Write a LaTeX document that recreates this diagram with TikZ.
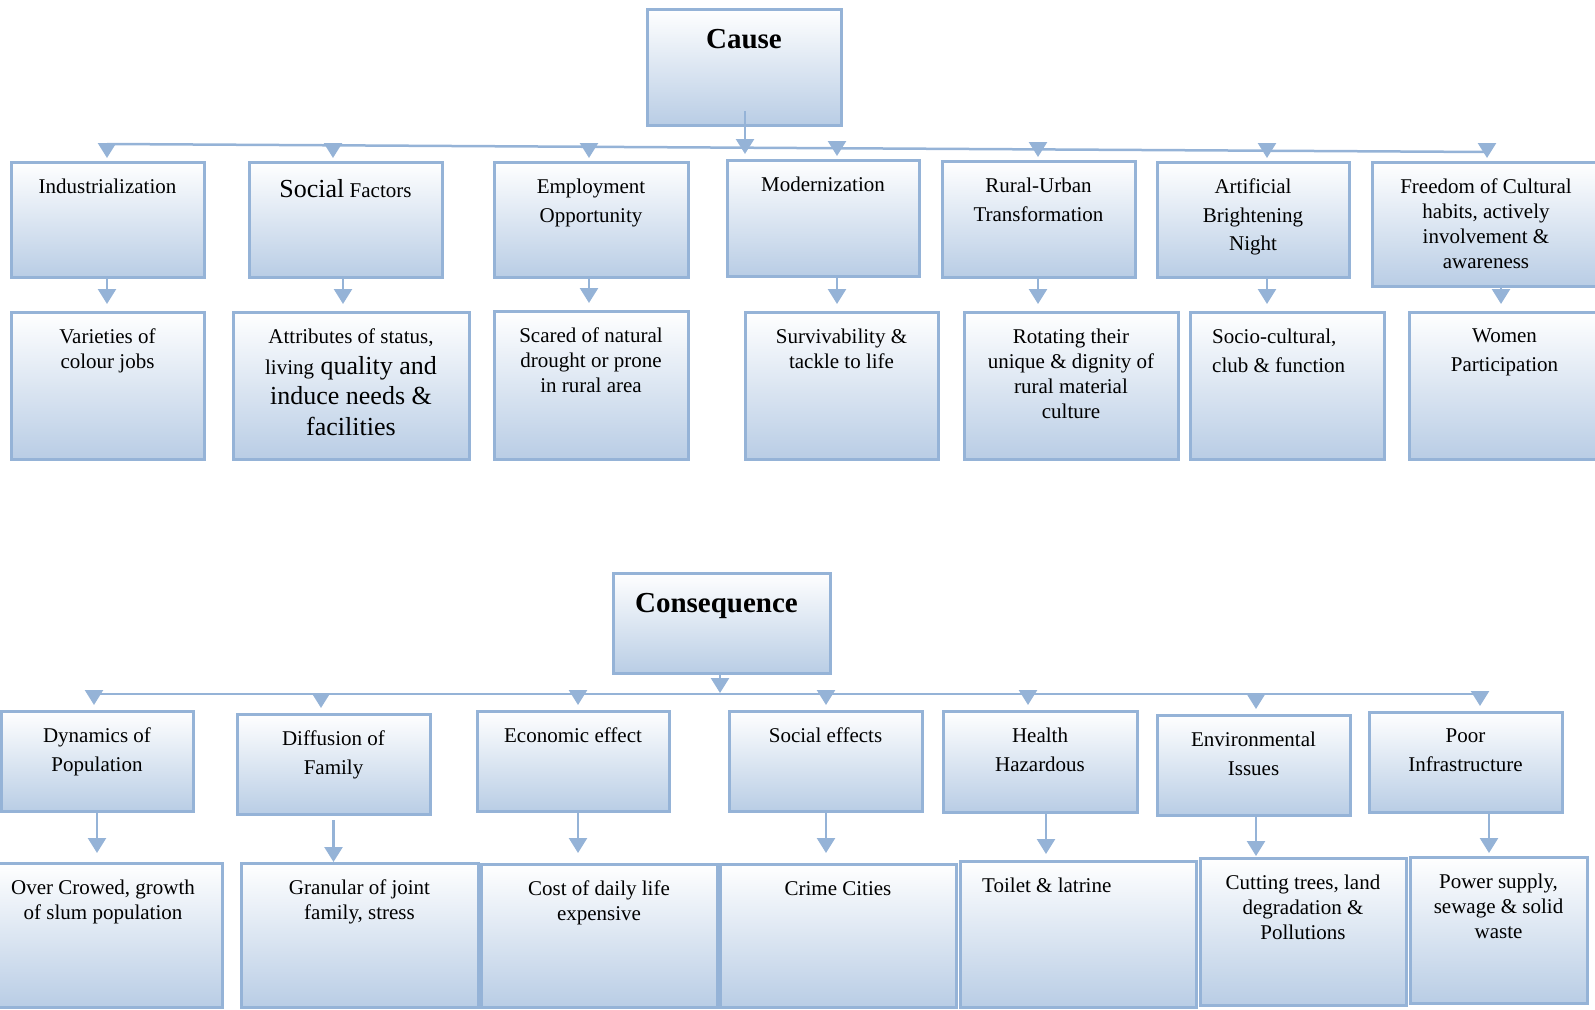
\documentclass[tikz,border=0pt]{standalone}
\usepackage{fontspec}
\setmainfont{Liberation Serif}
\usepackage{tikz}
\usetikzlibrary{arrows.meta,positioning,fit}
\usepackage{xcolor}
\definecolor{bline}{HTML}{95B3D7}
\definecolor{bfill}{HTML}{B9CDE5}

\begin{document}
\begin{tikzpicture}[
  x=1pt,y=-1pt,
  box/.style={draw=bline,line width=3pt,top color=white,bottom color=bfill,inner sep=0pt,outer sep=0pt},
  txt/.style={anchor=north,inner sep=0pt,align=center,font=\fontsize{21}{25}\selectfont},
  txtw/.style={txt,font=\fontsize{21}{28.5}\selectfont},
  headtxt/.style={anchor=north,inner sep=0pt,font=\fontsize{29}{34}\selectfont\bfseries},
  bus/.style={draw=bline,line width=2.5pt},
  link/.style={-{Triangle[width=18pt,length=15pt]},draw=bline,line width=2.5pt}
]
  \useasboundingbox (0,0) rectangle (1595,1009);
  \clip (0,0) rectangle (1595,1009);

  % Cause -- top block
  \node[box,fit={(647,9) (841,125)}] (cause) {};
  \node[headtxt] (cause-t) at ([yshift=-20pt]cause.north) {Cause};

  % Top row
  \node[box,fit={(11,162) (204,277)}]    (ind) {};
  \node[box,fit={(249,162) (442,277)}]   (soc) {};
  \node[box,fit={(494,162) (688,277)}]   (emp) {};
  \node[box,fit={(727,160) (919,276)}]   (mod) {};
  \node[box,fit={(942,161) (1135,277)}]  (rur) {};
  \node[box,fit={(1157,162) (1349,277)}] (art) {};
  \node[box,fit={(1372,162) (1600,286)}] (fre) {};

  \node[txt]  (ind-t) at ([yshift=-17pt]ind.north) {Industrialization};
  \node[txt]  (soc-t) at ([yshift=-17pt]soc.north) {{\fontsize{26}{30}\selectfont Social} Factors};
  \node[txtw] (emp-t) at ([yshift=-17pt]emp.north) {Employment\\Opportunity};
  \node[txt]  (mod-t) at ([yshift=-17pt]mod.north) {Modernization};
  \node[txtw] (rur-t) at ([yshift=-17pt]rur.north) {Rural-Urban\\Transformation};
  \node[txtw] (art-t) at ([yshift=-17pt]art.north) {Artificial\\Brightening\\Night};
  \node[txt]  (fre-t) at ([yshift=-17pt]fre.north) {Freedom of Cultural\\habits, actively\\involvement \&\\awareness};

  % Second row -- below
  \node[box,fit={(11,312) (204,459)}]    (var) {};
  \node[box,fit={(233,312) (469,459)}]   (att) {};
  \node[box,fit={(494,311) (688,459)}]   (sca) {};
  \node[box,fit={(745,312) (938,459)}]   (sur) {};
  \node[box,fit={(964,312) (1178,459)}]  (rot) {};
  \node[box,fit={(1190,312) (1384,459)}] (scl) {};
  \node[box,fit={(1409,312) (1600,459)}] (wom) {};

  \node[txt]  (var-t) at ([yshift=-17pt]var.north) {Varieties of\\colour jobs};
  \node[txt,font=\fontsize{26}{30.5}\selectfont] (att-t) at ([yshift=-17pt]att.north)
    {{\fontsize{21}{25}\selectfont Attributes of status,}\\{\fontsize{21}{25}\selectfont living} quality and\\induce needs \&\\facilities};
  \node[txt]  (sca-t) at ([yshift=-17pt]sca.north) {Scared of natural\\drought or prone\\in rural area};
  \node[txt]  (sur-t) at ([yshift=-17pt]sur.north) {Survivability \&\\tackle to life};
  \node[txt]  (rot-t) at ([yshift=-17pt]rot.north) {Rotating their\\unique \& dignity of\\rural material\\culture};
  \node[txtw,anchor=north west,align=left] (scl-t) at ([xshift=22pt,yshift=-17pt]scl.north west) {Socio-cultural,\\club \& function};
  \node[txtw] (wom-t) at ([yshift=-17pt]wom.north) {Women\\Participation};

  % Cause bus and arrows
  \coordinate (t0) at (745,154);
  \coordinate (t1) at (107,144);
  \coordinate (t2) at (333,145.3);
  \coordinate (t3) at (589,146.8);
  \coordinate (t4) at (837,148.2);
  \coordinate (t5) at (1038,149.4);
  \coordinate (t6) at (1267,150.7);
  \coordinate (t7) at (1487,152);
  \draw[bus] (t1) -- (t7);
  \draw[link] ([yshift=14pt]cause.south -| t0) -- (t0);
  \draw[link,shorten >=4pt] (t1) -- (t1 |- ind.north);
  \draw[link,shorten >=4pt] (t2) -- (t2 |- soc.north);
  \draw[link,shorten >=4pt] (t3) -- (t3 |- emp.north);
  \draw[link,shorten >=4pt] (t4) -- (t4 |- mod.north);
  \draw[link,shorten >=4pt] (t5) -- (t5 |- rur.north);
  \draw[link,shorten >=4pt] (t6) -- (t6 |- art.north);
  \draw[link,shorten >=4pt] (t7) -- (t7 |- fre.north);

  \draw[link,shorten >=8pt] (t1 |- ind.south) -- (t1 |- var.north);
  \draw[link,shorten >=8pt] ([xshift=-2.5pt]soc.south) -- ([xshift=-2.5pt]soc.south |- att.north);
  \draw[link,shorten >=8pt] (t3 |- emp.south) -- (t3 |- sca.north);
  \draw[link,shorten >=8pt] (t4 |- mod.south) -- (t4 |- sur.north);
  \draw[link,shorten >=8pt] (t5 |- rur.south) -- (t5 |- rot.north);
  \draw[link,shorten >=8pt] (t6 |- art.south) -- (t6 |- scl.north);
  \draw[link,shorten >=8pt] ([xshift=15pt]fre.south) -- ([xshift=15pt]fre.south |- wom.north);

  % Consequence -- lower block
  \node[box,fit={(613,573) (830,673)}] (cons) {};
  \node[headtxt] (cons-t) at ([xshift=-5pt,yshift=-20pt]cons.north) {Consequence};

  % Third row
  \node[box,fit={(1,711) (193,811)}]     (dyn) {};
  \node[box,fit={(237,714) (430,814)}]   (dif) {};
  \node[box,fit={(477,711) (669,811)}]   (eco) {};
  \node[box,fit={(729,711) (922,811)}]   (sef) {};
  \node[box,fit={(943,711) (1137,812)}]  (hea) {};
  \node[box,fit={(1157,715) (1350,815)}] (env) {};
  \node[box,fit={(1369,712) (1562,812)}] (poo) {};

  \node[txtw] (dyn-t) at ([yshift=-17pt]dyn.north) {Dynamics of\\Population};
  \node[txtw] (dif-t) at ([yshift=-17pt]dif.north) {Diffusion of\\Family};
  \node[txt]  (eco-t) at ([yshift=-17pt]eco.north) {Economic effect};
  \node[txt]  (sef-t) at ([yshift=-17pt]sef.north) {Social effects};
  \node[txtw] (hea-t) at ([yshift=-17pt]hea.north) {Health\\Hazardous};
  \node[txtw] (env-t) at ([yshift=-17pt]env.north) {Environmental\\Issues};
  \node[txtw] (poo-t) at ([yshift=-17pt]poo.north) {Poor\\Infrastructure};

  % Bottom row
  \node[box,fit={(-16,863) (222,1007)}]  (ovc) {};
  \node[box,fit={(241,863) (478,1007)}]  (gra) {};
  \node[box,fit={(481,864) (717,1007)}]  (cos) {};
  \node[box,fit={(720,864) (956,1007)}]  (cri) {};
  \node[box,fit={(960,861) (1196,1007)}] (toi) {};
  \node[box,fit={(1200,858) (1406,1005)}] (cut) {};
  \node[box,fit={(1410,857) (1587,1003)}] (pow) {};

  \node[txt] (ovc-t) at ([yshift=-17pt]ovc.north) {Over Crowed, growth\\of slum population};
  \node[txt] (gra-t) at ([yshift=-17pt]gra.north) {Granular of joint\\family, stress};
  \node[txt] (cos-t) at ([yshift=-17pt]cos.north) {Cost of daily life\\expensive};
  \node[txt] (cri-t) at ([yshift=-17pt]cri.north) {Crime Cities};
  \node[txt,anchor=north west,align=left] (toi-t) at ([xshift=22pt,yshift=-17pt]toi.north west) {Toilet \& latrine};
  \node[txt] (cut-t) at ([yshift=-17pt]cut.north) {Cutting trees, land\\degradation \&\\Pollutions};
  \node[txt] (pow-t) at ([yshift=-17pt]pow.north) {Power supply,\\sewage \& solid\\waste};

  % Consequence bus and arrows
  \coordinate (b0) at (720,693);
  \coordinate (b1) at (94,694);
  \coordinate (b2) at (321,694);
  \coordinate (b3) at (578,694);
  \coordinate (b4) at (826,694);
  \coordinate (b5) at (1028,694);
  \coordinate (b6) at (1256,694);
  \coordinate (b7) at (1480,694);
  \draw[bus] (b1) -- (b7);
  \draw[link] (cons.south -| b0) -- (b0);
  \draw[link,shorten >=6pt] (b1) -- (b1 |- dyn.north);
  \draw[link,shorten >=6pt] (b2) -- (b2 |- dif.north);
  \draw[link,shorten >=6pt] (b3) -- (b3 |- eco.north);
  \draw[link,shorten >=6pt] (b4) -- (b4 |- sef.north);
  \draw[link,shorten >=6pt] (b5) -- (b5 |- hea.north);
  \draw[link,shorten >=6pt] (b6) -- (b6 |- env.north);
  \draw[link,shorten >=6pt] (b7) -- (b7 |- poo.north);

  \draw[link,shorten >=10pt] (dyn.south) -- (dyn.south |- ovc.north);
  \draw[link,shorten <=6pt,shorten >=1pt] (dif.south) -- (dif.south |- gra.north);
  \draw[link,shorten >=11pt] (b3 |- eco.south) -- (b3 |- cos.north);
  \draw[link,shorten >=11pt] (b4 |- sef.south) -- (b4 |- cri.north);
  \draw[link,shorten >=7pt] ([xshift=6pt]hea.south) -- ([xshift=6pt]hea.south |- toi.north);
  \draw[link,shorten >=2pt] (b6 |- env.south) -- (b6 |- cut.north);
  \draw[link,shorten >=4pt] ([xshift=23.5pt]poo.south) -- ([xshift=23.5pt]poo.south |- pow.north);
\end{tikzpicture}
\end{document}
